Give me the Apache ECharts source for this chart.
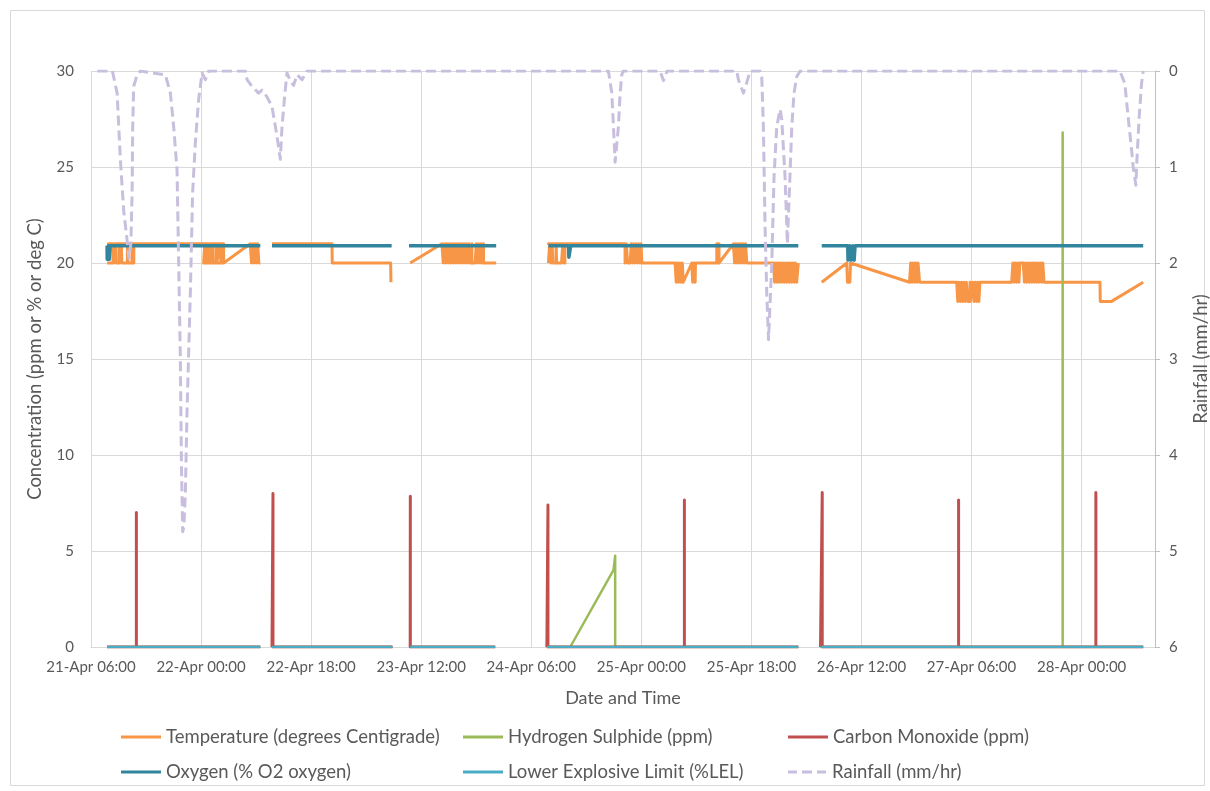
<!DOCTYPE html>
<html>
<head>
<meta charset="utf-8">
<script src="https://cdn.jsdelivr.net/npm/echarts@6/dist/echarts.min.js"></script>
<style>
html,body{margin:0;padding:0;background:#ffffff;}
#chart{width:1210px;height:791px;}
</style>
</head>
<body>
<div id="chart"></div>
<script>
// ---------------- DATA (x = hours after 21-Apr 06:00) ----------------
const xTickLabels = ['21-Apr 06:00','22-Apr 00:00','22-Apr 18:00','23-Apr 12:00','24-Apr 06:00',
                     '25-Apr 00:00','25-Apr 18:00','26-Apr 12:00','27-Apr 06:00','28-Apr 00:00'];
const xTickStepHours = 18;
const xMaxHours = 174;
const concentrationTicks = [0, 30, 5];   // min, max, step
const rainfallTicks = [0, 6, 1];         // min, max, step

const seriesNames = ['Temperature (degrees Centigrade)','Hydrogen Sulphide (ppm)','Carbon Monoxide (ppm)',
                     'Oxygen (% O2 oxygen)','Lower Explosive Limit (%LEL)','Rainfall (mm/hr)'];

const temperature = [
  [2.63,20],[3.6,20],[3.6,21],[3.7,21],[3.7,20],[4.0,20],[4.0,21],[4.1,21],[4.1,20],
  [4.6,20],[4.6,21],[4.7,21],[4.7,20],[4.95,20],[4.95,21],[5.05,21],[5.05,20],
  [5.95,20],[5.95,21],[6.05,21],[6.05,20],[6.7,20],[6.7,21],[6.85,20],[7.0,21],[7.0,20],
  [7.0,21],[2.84,21],[21.69,21],[21.69,20],[18.42,20],
  [18.6,21],[18.8,20],[19.0,21],[19.2,20],[19.4,21],[19.55,20],
  [19.93,20],[19.93,21],[20.0,21],[20.0,20],[20.5,20],[20.5,21],[20.57,21],[20.57,20],
  [20.87,20],[21.05,21],[21.25,20],[21.45,21],[21.69,20],
  [26.05,21],[26.25,20],[26.45,21],[26.65,20],[26.85,21],[27.05,20],[27.25,21],[27.45,20],[27.69,20],
  [28.6,'-'],
  [29.6,21],[39.41,21],[39.45,20],[49.0,20],[49.05,19],[49.15,19],
  [50.7,'-'],
  [52.2,20],[57.39,21],
  [57.6,20],[57.8,21],[58.0,20],[58.2,21],[58.4,20],[58.6,21],[58.8,20],[59.0,21],[59.2,20],[59.4,21],
  [59.6,20],[59.8,21],[60.0,20],[60.2,21],[60.4,20],[60.6,21],[60.8,20],[61.0,21],[61.2,20],[61.4,21],
  [61.6,20],[61.8,21],[62.0,20],[62.29,21],[62.29,20],
  [62.83,20],[63.0,21],[63.2,20],[63.4,21],[63.6,20],[63.8,21],[64.0,20],[64.19,21],[64.19,20],[66.26,20],
  [70.0,'-'],
  [74.81,20],[75.0,21],[75.2,20],[75.4,21],[75.55,20],[76.05,20],[76.05,21],[76.15,21],[76.15,20],
  [76.95,20],[77.15,21],[77.35,20],[77.5,21],[77.5,20],[77.5,21],[74.81,21],[87.34,21],
  [87.34,20],[87.55,21],[87.75,20],[88.17,20],[88.35,21],[88.55,20],[88.75,21],[88.95,20],[89.15,21],
  [89.35,20],[89.55,21],[89.75,20],[89.95,21],[90.08,20],
  [95.52,20],[95.7,19],[95.9,20],[96.1,19],[96.3,20],[96.5,19],[96.7,20],[96.85,19],
  [98.25,20],[98.4,19],[98.6,20],[98.8,19],[98.85,20],
  [102.34,20],[102.34,21],[102.7,21],[102.7,20],[105.05,21],
  [105.25,20],[105.45,21],[105.65,20],[105.85,21],[106.05,20],[106.25,21],[106.45,20],[106.65,21],
  [106.85,20],[107.05,21],[107.24,20],
  [111.59,20],[111.8,19],[112.0,20],[112.2,19],[112.4,20],[112.6,19],[112.8,20],[113.0,19],[113.2,20],
  [113.4,19],[113.6,20],[113.8,19],[114.0,20],[114.2,19],[114.4,20],[114.6,19],[114.8,20],[115.0,19],
  [115.2,20],[115.4,19],[115.67,20],
  [117.5,'-'],
  [119.5,19],[123.6,20],[123.7,19],[124.1,19],[124.2,20],[133.86,19],
  [134.05,20],[134.25,19],[134.45,20],[134.65,19],[134.85,20],[135.05,19],[135.25,20],[135.5,19],
  [141.57,19],[141.75,18],[141.95,19],[142.15,18],[142.35,19],[142.55,18],[142.75,19],[142.95,18],
  [143.15,19],[143.4,18],[143.75,18],[143.75,19],[143.8,19],[143.8,18],
  [144.0,18],[144.2,19],[144.4,18],[144.6,19],[144.8,18],[145.0,19],[145.2,18],[145.37,19],
  [150.56,19],[150.75,20],[150.95,19],[151.15,20],[151.35,19],[151.55,20],[151.75,19],[151.9,20],
  [152.45,20],[152.65,19],[152.85,20],[153.05,19],[153.25,20],[153.45,19],[153.65,20],[153.85,19],
  [154.05,20],[154.25,19],[154.45,20],[154.65,19],[154.85,20],[155.05,19],[155.25,20],[155.45,19],
  [155.65,20],[155.85,19],[156.0,19],
  [165.0,19],[165.05,18],[166.9,18],[172.07,19]
];

const hydrogenSulphide = [
  [2.63,0],[27.69,0],[28.6,'-'],
  [29.6,0],[49.3,0],[50.7,'-'],
  [52.2,0],[66.1,0],[70.0,'-'],
  [74.55,0],[78.37,0],[85.44,4.0],[85.72,4.75],[85.72,0],[115.67,0],[117.5,'-'],
  [119.3,0],[158.9,0],[158.9,26.8],[158.9,0],[172.07,0]
];

const carbonMonoxide = [
  [2.63,0],[7.42,0],[7.42,7.0],[7.42,0],[27.69,0],[28.6,'-'],
  [29.6,0],[29.76,0],[29.76,8.0],[29.76,0],[49.3,0],[50.7,'-'],
  [52.2,0],[52.22,7.85],[52.22,0],[66.1,0],[70.0,'-'],
  [74.55,0],[74.73,0],[74.73,7.4],[74.73,0],[97.04,0],[97.04,7.65],[97.04,0],[115.67,0],[117.5,'-'],
  [119.3,0],[119.58,0],[119.58,8.05],[119.58,0],[141.88,0],[141.88,7.65],[141.88,0],
  [164.33,0],[164.33,8.05],[164.33,0],[172.07,0]
];

const oxygen = [
  [2.63,20.9],[2.65,20.2],[2.85,20.9],[3.0,20.2],[3.15,20.9],[27.69,20.9],[28.6,'-'],
  [29.6,20.9],[49.17,20.9],[50.7,'-'],
  [52.0,20.9],[66.26,20.9],[70.0,'-'],
  [74.81,20.9],[78.1,20.9],[78.15,20.3],[78.4,20.3],[78.45,20.9],[115.67,20.9],[117.5,'-'],
  [119.5,20.9],[123.75,20.9],[123.8,20.15],[124.05,20.9],[124.3,20.15],[124.55,20.9],[124.8,20.15],
  [124.95,20.9],[172.07,20.9]
];

const lowerExplosiveLimit = [
  [2.63,0],[27.69,0],[28.6,'-'],
  [29.6,0],[49.3,0],[50.7,'-'],
  [52.2,0],[66.1,0],[70.0,'-'],
  [74.55,0],[115.67,0],[117.5,'-'],
  [119.3,0],[172.07,0]
];

const rainfall = [
  [1.05,0],[3.5,0],[4.27,0.23],[4.81,0.93],[5.34,1.45],[5.9,1.76],[6.19,1.95],[6.52,1.8],[6.72,1.27],
  [6.82,0.58],[6.98,0.16],[7.54,0.04],[8.07,0],
  [12.16,0.04],[12.98,0.23],[13.52,0.58],[14.07,1.03],[14.33,1.97],[14.61,3.0],[14.78,4.05],[14.99,4.8],
  [15.18,4.75],[15.43,4.4],[15.71,3.53],[16.25,2.3],[16.62,1.27],[17.06,0.75],[17.6,0.3],[18.16,0.02],
  [18.7,0.09],[19.24,0],[25.24,0],[25.52,0.09],[26.33,0.16],[27.41,0.23],[27.97,0.2],[28.78,0.27],
  [29.6,0.37],[30.42,0.68],[30.96,0.92],[31.24,0.58],[31.66,0.27],[32.05,0.02],[32.59,0.1],[33.13,0.15],
  [33.69,0.04],[34.51,0.09],[35.32,0],
  [84.62,0],[85.17,0.23],[85.44,0.58],[85.71,0.95],[85.96,0.97],[86.25,0.58],[86.53,0.23],[86.8,0.04],
  [87.02,0],[93.07,0],[93.61,0.1],[94.21,0],
  [105.61,0],[105.87,0.09],[106.69,0.23],[107.24,0.12],[107.78,0],[109.41,0],[109.69,0.06],
  [109.96,0.58],[110.23,1.62],[110.51,2.32],[110.8,2.8],[111.33,2.0],[111.7,1.1],[112.14,0.58],
  [112.68,0.4],[112.96,0.5],[113.5,1.1],[113.88,1.8],[114.2,1.27],[114.6,0.58],[114.97,0.23],
  [115.41,0.06],[115.95,0],
  [168.25,0],[169.07,0.13],[169.61,0.48],[170.17,0.82],[170.43,1.0],[170.87,1.19],[171.04,0.93],
  [171.41,0.48],[171.8,0.13],[172.07,0]
];

// ---------------- STYLE / LAYOUT ----------------
const FONT = 'Lato, "Open Sans", sans-serif';
const TXT = '#595959';
const GRID = '#D9D9D9';
const colors = ['#F79646','#9BBB59','#C0504D','#31859C','#4BACC6','#C8BEDD'];
const widths = [3, 2.5, 3, 3.5, 2.5, 3];
const dataSets = [temperature, hydrogenSulphide, carbonMonoxide, oxygen, lowerExplosiveLimit, rainfall];
const legendSpots = [[121,727],[463,727],[788,727],[121,762],[463,762],[788,762]];
const SOLID_ICON = 'path://M0,0H40V3H0Z';
const DASH_ICON = 'path://M0,0H9V3H0Z M14,0H24V3H14Z M29,0H38V3H29Z';

const chart = echarts.init(document.getElementById('chart'), null, {renderer:'canvas'});

const series = seriesNames.map((name, i) => ({
  name: name,
  type: 'line',
  yAxisIndex: i === 5 ? 1 : 0,
  data: dataSets[i],
  showSymbol: false,
  symbol: 'none',
  connectNulls: false,
  animation: false,
  silent: true,
  color: colors[i],
  itemStyle: {color: colors[i]},
  lineStyle: {
    color: colors[i],
    width: widths[i],
    type: i === 5 ? [10, 5] : 'solid',
    cap: 'butt',
    join: 'round'
  },
  emphasis: {disabled: true},
  z: 2 + i
}));

const option = {
  backgroundColor: '#ffffff',
  animation: false,
  textStyle: {fontFamily: FONT},
  graphic: [{
    type: 'rect', left: 8, top: 8, silent: true,
    shape: {x: 0, y: 0, width: 1194, height: 775},
    style: {fill: 'none', stroke: GRID, lineWidth: 1}
  }],
  grid: {left: 91, right: 55, top: 71, bottom: 144, containLabel: false, outerBoundsMode: 'none'},
  legend: seriesNames.map((n, i) => ({
    data: [{name: n, icon: i === 5 ? DASH_ICON : SOLID_ICON, itemStyle: {color: colors[i]}}],
    left: legendSpots[i][0],
    top: legendSpots[i][1],
    orient: 'horizontal',
    itemWidth: 40,
    itemHeight: 3,
    selectedMode: false,
    padding: 0,
    textStyle: {fontFamily: FONT, fontSize: 18.5, color: TXT, lineHeight: 20}
  })),
  xAxis: {
    type: 'value',
    min: 0,
    max: xMaxHours,
    interval: xTickStepHours,
    name: 'Date and Time',
    nameLocation: 'middle',
    nameGap: 42,
    nameTextStyle: {fontFamily: FONT, fontSize: 18, color: TXT},
    axisLine: {show: true, lineStyle: {color: GRID, width: 1}},
    axisTick: {show: false},
    splitLine: {show: true, lineStyle: {color: GRID, width: 1}},
    axisLabel: {
      fontFamily: FONT, fontSize: 15, color: TXT, margin: 13,
      showMaxLabel: false,
      formatter: function (v) {
        const k = Math.round(v / xTickStepHours);
        return (Math.abs(v - k * xTickStepHours) < 1e-6 && xTickLabels[k]) ? xTickLabels[k] : '';
      }
    }
  },
  yAxis: [{
    type: 'value',
    position: 'left',
    min: concentrationTicks[0], max: concentrationTicks[1], interval: concentrationTicks[2],
    name: 'Concentration (ppm or % or deg C)',
    nameLocation: 'middle',
    nameGap: 46,
    nameRotate: 90,
    nameTextStyle: {fontFamily: FONT, fontSize: 18.5, color: TXT},
    axisLine: {show: false},
    axisTick: {show: false},
    splitLine: {show: true, lineStyle: {color: GRID, width: 1}},
    axisLabel: {fontFamily: FONT, fontSize: 15, color: TXT, margin: 17}
  }, {
    type: 'value',
    position: 'right',
    inverse: true,
    min: rainfallTicks[0], max: rainfallTicks[1], interval: rainfallTicks[2],
    name: 'Rainfall (mm/hr)',
    nameLocation: 'middle',
    nameGap: 37,
    nameRotate: 90,
    nameTextStyle: {fontFamily: FONT, fontSize: 18.5, color: TXT},
    axisLine: {show: true, lineStyle: {color: '#BFBFBF', width: 1}},
    axisTick: {show: true, inside: false, length: 5, lineStyle: {color: '#BFBFBF'}},
    splitLine: {show: false},
    axisLabel: {fontFamily: FONT, fontSize: 15, color: TXT, margin: 14}
  }],
  series: series
};

chart.setOption(option);
</script>
</body>
</html>
